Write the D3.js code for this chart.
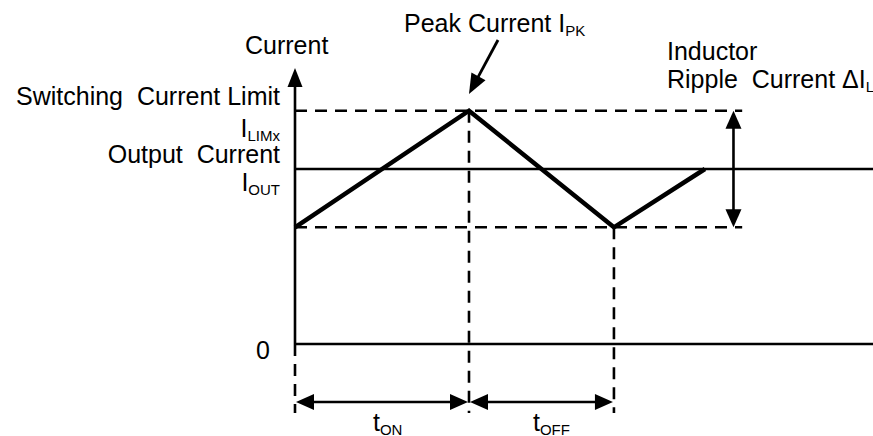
<!DOCTYPE html>
<html><head><meta charset="utf-8">
<script src="https://cdn.jsdelivr.net/npm/d3@7"></script>
<style>body{margin:0;background:#fff}svg{display:block}text{font-family:"Liberation Sans",Arial,sans-serif;fill:#000}</style>
</head><body><svg id="c" width="873" height="436"></svg>
<script>
// ---- data (time in units of t_ON, current in units of I_OUT) ----
const waveTime = [0, 1, 1.833, 2.356];
const waveCurrent = [0.667, 1.333, 0.667, 1.0];
const levels = {zero: 0, valley: 0.667, out: 1.0, peak: 1.333};
const leftLabels = [
  {text: "Switching  Current Limit", sub: "", level: 1.333, dy: -6},
  {text: "I", sub: "LIMx", level: 1.333, dy: 26},
  {text: "Output  Current", sub: "", level: 1.0, dy: -6},
  {text: "I", sub: "OUT", level: 1.0, dy: 22},
  {text: "0", sub: "", level: 0, dy: 15}
];

const svg = d3.select("#c");
const x = d3.scaleLinear().domain([0, 1]).range([295, 469]);
const y = d3.scaleLinear().domain([0, 1]).range([344, 169]);
const xEnd = 873, dashEnd = x(2.57), yTop = 68, tickBottom = 413, arrY = 402;

const dash = "12,8";
function line(x1, y1, x2, y2, w, d) {
  svg.append("line").attr("x1", x1).attr("y1", y1).attr("x2", x2).attr("y2", y2)
    .attr("stroke", "#000").attr("stroke-width", w).attr("stroke-dasharray", d || null);
}
function head(tx, ty, ang, len, hw) {
  const bx = tx - len * Math.cos(ang), by = ty - len * Math.sin(ang);
  const px = -Math.sin(ang) * hw, py = Math.cos(ang) * hw;
  svg.append("path").attr("d", `M${tx},${ty}L${bx + px},${by + py}L${bx - px},${by - py}Z`).attr("fill", "#000");
}

// y axis
line(x(0), y(0), x(0), yTop + 12, 2.6);
head(x(0), yTop, -Math.PI / 2, 19, 7.5);
// zero and output lines
line(x(0), y(levels.zero), xEnd, y(levels.zero), 2.6);
line(x(0), y(levels.out), xEnd, y(levels.out), 2.6);
// dashed peak & valley lines
line(x(0), y(levels.peak), dashEnd, y(levels.peak), 2.6, dash);
line(x(0), y(levels.valley), dashEnd, y(levels.valley), 2.6, dash);
// vertical dashed markers
line(x(0), y(0), x(0), tickBottom, 2.6, dash);
line(x(1), y(levels.peak), x(1), tickBottom, 2.6, dash);
line(x(1.833), y(levels.valley), x(1.833), tickBottom, 2.6, dash);

// waveform
svg.append("path")
  .datum(waveTime.map((t, i) => [t, waveCurrent[i]]))
  .attr("d", d3.line().x(d => x(d[0])).y(d => y(d[1])))
  .attr("fill", "none").attr("stroke", "#000").attr("stroke-width", 4.5).attr("stroke-linejoin", "miter");

// ripple arrow
const rx = x(2.52);
line(rx, y(levels.peak) + 10, rx, y(levels.valley) - 10, 2.6);
head(rx, y(levels.peak), -Math.PI / 2, 18, 8);
head(rx, y(levels.valley), Math.PI / 2, 18, 8);

// period arrows
[[0, 1], [1, 1.833]].forEach(([a, b]) => {
  line(x(a) + 10, arrY, x(b) - 10, arrY, 2.6);
  head(x(a) + 1, arrY, Math.PI, 18, 8);
  head(x(b) - 1, arrY, 0, 18, 8);
});

// peak pointer arrow
const ptx = x(1), pty = 94, psx = 498, psy = 40;
const pa = Math.atan2(pty - psy, ptx - psx);
line(psx, psy, ptx - 12 * Math.cos(pa), pty - 12 * Math.sin(pa), 2.8);
head(ptx, pty, pa, 20, 8);

// text helper
function label(tx, ty, main, sub, anchor) {
  const t = svg.append("text").attr("x", tx).attr("y", ty).attr("text-anchor", anchor || "start")
    .style("font-size", "25px").style("white-space", "pre");
  t.append("tspan").text(main);
  if (sub) t.append("tspan").attr("dy", 4).style("font-size", "15px").text(sub);
  return t;
}
leftLabels.forEach(l => label(l.text === "0" ? 270 : 280, y(l.level) + l.dy, l.text, l.sub, "end"));
label(245, 54, "Current", "", "start");
label(404, 32, "Peak Current I", "PK", "start");
label(667, 60, "Inductor", "", "start");
label(667, 88, "Ripple  Current \u0394I", "L", "start");
label(373, 431, "t", "ON", "start");
label(533, 431, "t", "OFF", "start");
</script></body></html>
